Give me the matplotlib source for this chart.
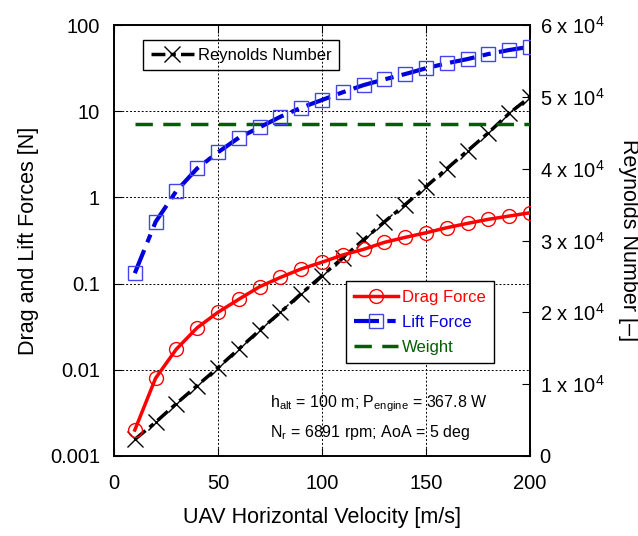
import numpy as np
import matplotlib
matplotlib.use('Agg')
import matplotlib.pyplot as plt

plt.rcParams['font.family'] = ['Liberation Sans', 'DejaVu Sans']
plt.rcParams['mathtext.fontset'] = 'custom'
plt.rcParams['mathtext.rm'] = 'Liberation Sans'
plt.rcParams['mathtext.it'] = 'Liberation Sans:italic'

velocity = [10, 20, 30, 40, 50, 60, 70, 80, 90, 100,
            110, 120, 130, 140, 150, 160, 170, 180, 190, 200]
drag = [0.0020, 0.0080, 0.0174, 0.0308, 0.0465, 0.0658, 0.092, 0.118, 0.148, 0.177,
        0.215, 0.250, 0.301, 0.344, 0.389, 0.445, 0.500, 0.557, 0.608, 0.664]
lift = [0.132, 0.52, 1.19, 2.17, 3.34, 4.93, 6.5, 8.63, 11.0, 13.5,
        16.6, 20.1, 23.4, 27.0, 31.5, 36.0, 40.3, 46.1, 51.3, 56.0]
weight = [7.05] * 20
reynolds = [2300, 4700, 7300, 9800, 12300, 14900, 17500, 20000, 22600, 25100,
            27600, 30100, 32600, 35000, 37500, 40000, 42500, 45000, 47700, 50000]

re_ticks = [0, 10000, 20000, 30000, 40000, 50000, 60000]
re_labels = ['0'] + ['%d x 10$^{4}$' % k for k in range(1, 7)]

fig = plt.figure(figsize=(6.38, 5.36), dpi=100)
ax = fig.add_axes([0.1787, 0.1493, 0.652, 0.804])
ax2 = ax.twinx()

# forces on the left (log) axis
ax.plot(velocity, drag, color='red', lw=2.5, marker='o', ms=10, mfc='none',
        mec='red', mew=1.0, label='Drag Force', zorder=4)
ax.plot(velocity, lift, color='#0000dd', lw=3, dashes=(6, 2, 2, 2), marker='s', ms=10,
        mfc='none', mec='#4444ee', mew=1.0, label='Lift Force', zorder=4)
ax.plot(velocity, weight, color='#006000', lw=2.5, dashes=(5, 3), label='Weight', zorder=3)

# Reynolds number on the right axis
ax2.plot(velocity, reynolds, color='black', lw=2.5, dashes=(4, 1.5, 1.5, 1.5), marker='x',
         ms=11, mec='black', mew=1.0, label='Reynolds Number')

ax.set_yscale('log')
ax.set_xlim(0, 200)
ax.set_ylim(0.001, 100)
ax2.set_ylim(0, 60000)
ax.set_yticks([0.001, 0.01, 0.1, 1, 10, 100])
ax.set_yticklabels(['0.001', '0.01', '0.1', '1', '10', '100'])
ax.yaxis.set_minor_locator(matplotlib.ticker.NullLocator())
ax.set_xticks([0, 50, 100, 150, 200])
ax2.set_yticks(re_ticks)
ax2.set_yticklabels(re_labels)

ax.grid(True, color='black', ls=(0, (2, 2)), lw=0.7)
ax.tick_params(direction='in', labelsize=14.5, length=6, top=True)
ax.tick_params(axis='x', pad=13)
ax.tick_params(axis='y', pad=10)
ax2.tick_params(direction='in', labelsize=14.5, length=6, pad=7)

ax.set_xlabel('UAV Horizontal Velocity [m/s]', fontsize=15.5, labelpad=10)
ax.set_ylabel('Drag and Lift Forces [N]', fontsize=15.5, labelpad=8)
ax2.set_ylabel('Reynolds Number [\u2013]', fontsize=15.5, rotation=270, labelpad=25)

for a in (ax, ax2):
    for s in a.spines.values():
        s.set_linewidth(1.2)

ax.text(0.375, 0.113, 'h$_{\\mathrm{alt}}$ = 100 m; P$_{\\mathrm{engine}}$ = 367.8 W',
        transform=ax.transAxes, fontsize=11.5)
ax.text(0.375, 0.045, 'N$_{\\mathrm{r}}$ = 6891 rpm; AoA = 5 deg',
        transform=ax.transAxes, fontsize=11.5)

leg1 = ax2.legend(loc='upper left', bbox_to_anchor=(0.07, 0.965), fontsize=12,
                  fancybox=False, edgecolor='black', framealpha=1, handlelength=2.6,
                  borderpad=0.45, borderaxespad=0, handletextpad=0.25)
leg1.get_frame().set_linewidth(1.0)

leg2 = ax.legend(loc='lower left', bbox_to_anchor=(0.558, 0.216), fontsize=12,
                 fancybox=False, edgecolor='black', framealpha=1, handlelength=2.6,
                 borderpad=0.5, borderaxespad=0, labelspacing=0.6, handletextpad=0.25)
leg2.get_frame().set_linewidth(1.0)
for txt, c in zip(leg2.get_texts(), ['red', '#0000dd', '#006000']):
    txt.set_color(c)
ax.set_zorder(ax2.get_zorder() + 1)
ax.patch.set_visible(False)

fig.savefig('out.png', dpi=100)
